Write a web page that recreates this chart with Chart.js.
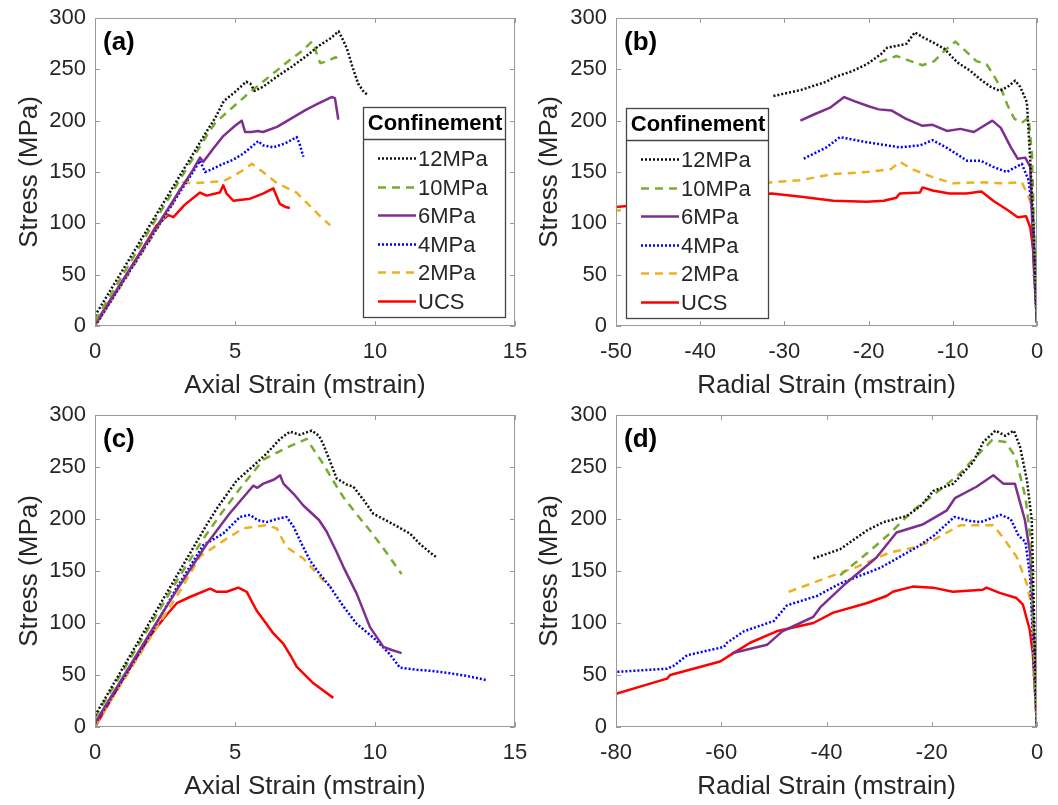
<!DOCTYPE html>
<html><head><meta charset="utf-8">
<script src="https://cdn.jsdelivr.net/npm/chart.js@4.4.1/dist/chart.umd.min.js"></script>
<style>
html,body{margin:0;padding:0;background:#fff;}
#wrap{position:relative;width:1058px;height:805px;overflow:hidden;}
canvas{position:absolute;}
</style></head><body>
<div id="wrap">
<canvas id="ca" width="529" height="402" style="left:0;top:0;width:529px;height:402px"></canvas>
<canvas id="cb" width="529" height="402" style="left:529px;top:0;width:529px;height:402px"></canvas>
<canvas id="cc" width="529" height="403" style="left:0;top:402px;width:529px;height:403px"></canvas>
<canvas id="cd" width="529" height="403" style="left:529px;top:402px;width:529px;height:403px"></canvas>
</div>
<script>
// ---------- series names ----------
const seriesNames = ['12MPa', '10MPa', '6MPa', '4MPa', '2MPa', 'UCS'];

// ---------- panel (a): stress vs axial strain, [strain, stress] ----------
const a12 = [[0,10],[1,55],[2,100],[3,145],[4,190],[4.3,203],[4.6,219],[5.0,228],[5.4,238],[5.55,236],[5.7,229],[6.0,233],[6.5,243],[7.0,252],[7.5,262],[8.0,273],[8.4,280],[8.7,287],[8.85,279],[9.0,270],[9.2,252],[9.4,236],[9.6,228],[9.75,225]];
const a10 = [[0,5],[1,50],[2,96],[3,141],[4,186],[4.3,198],[4.5,203],[5.0,215],[5.5,227],[6.0,238],[6.5,249],[7.0,260],[7.4,268],[7.75,277],[7.85,272],[7.95,262],[8.05,256],[8.3,258],[8.6,262],[8.7,256]];
const a6 = [[0,2],[1,45],[2,88],[3,131],[3.5,152],[3.75,164],[3.87,160],[4.2,172],[4.58,185],[5.0,195],[5.24,200],[5.36,189],[5.6,189],[5.8,190],[6.0,189],[6.5,194],[7.0,202],[7.56,211],[8.0,217],[8.45,223],[8.57,222],[8.69,201]];
const a4 = [[0,0],[1,43],[2,86],[3,129],[3.5,150],[3.75,161],[3.93,150],[4.2,153],[4.58,158],[4.94,162],[5.3,168],[5.83,180],[6.0,176],[6.37,174],[6.8,178],[7.2,184],[7.3,178],[7.44,165]];
const a2 = [[0,0],[1,42],[2,85],[2.8,120],[3.15,140],[3.5,139],[4.0,140],[4.58,141],[5.0,147],[5.3,152],[5.6,158],[6.0,150],[6.5,139],[7.2,130],[7.6,119],[8.0,108],[8.4,98]];
const aUCS = [[0,0],[1,44],[2.2,98],[2.62,108],[2.8,106],[3.2,118],[3.75,130],[3.99,127],[4.46,130],[4.58,137],[4.7,129],[4.94,122],[5.54,124],[6.0,129],[6.37,134],[6.6,119],[6.8,116],[6.96,115]];

// ---------- panel (b): stress vs radial strain ----------
const b12 = [[-31.3,224],[-28,230],[-25,238],[-24.2,242],[-22,248],[-20.2,255],[-18.5,265],[-17.8,271],[-16,274],[-15.5,275],[-14.5,286],[-13.5,281],[-12.3,276],[-11,270],[-9.5,257],[-8,249],[-6.7,240],[-5.5,233],[-4.4,229],[-3.3,234],[-2.6,239],[-2,233],[-1.2,218],[-0.8,161],[-0.44,103],[0,3]];
const b10 = [[-18.7,257],[-16.7,263],[-15,258],[-13.6,254],[-12.2,258],[-11,268],[-9.7,277],[-8.5,268],[-7.2,258],[-6.0,255],[-5.2,245],[-4.3,232],[-3.5,215],[-2.7,202],[-1.8,198],[-1.0,203],[-0.6,167],[-0.3,80],[0,3]];
const b6 = [[-28.1,200],[-26.5,206],[-24.5,213],[-22.9,223],[-21.7,219],[-20,214],[-18.8,211],[-17.3,210],[-15.6,202],[-13.6,195],[-12.4,196],[-10.7,190],[-9.1,192],[-7.5,189],[-6.3,195],[-5.3,200],[-4.3,193],[-3.1,174],[-2.3,163],[-1.4,164],[-0.8,155],[-0.4,60],[0,3]];
const b4 = [[-27.7,163],[-25.0,174],[-23.4,184],[-20.2,179],[-16.3,174],[-13.9,176],[-12.4,181],[-10.8,174],[-8.3,161],[-6.7,161],[-5.2,155],[-3.6,150],[-1.8,158],[-1.0,142],[-0.44,103],[-0.2,30],[0,3]];
const b2 = [[-52,110],[-50,112],[-31.5,140],[-28.1,142],[-24.2,148],[-20.2,150],[-17.3,153],[-16.3,160],[-14.9,153],[-12.4,145],[-10.0,139],[-6.3,140],[-4.3,139],[-1.8,140],[-1.0,126],[-0.6,116],[-0.3,50],[0,3]];
const bUCS = [[-52,115],[-50,116],[-31.5,129],[-28,126],[-24.2,122],[-20.2,121],[-18.2,122],[-16.7,125],[-16.3,129],[-13.9,130],[-13.6,135],[-12.4,132],[-10.4,129],[-8.4,129],[-6.6,131],[-5.2,122],[-3.5,113],[-2.3,106],[-1.3,107],[-0.8,96],[-0.4,71],[0,3]];

// ---------- panel (c): stress vs axial strain ----------
const c12 = [[0,11],[1,57],[2,103],[3,149],[4,195],[4.35,210],[5.06,237],[5.65,251],[6.13,263],[6.61,277],[6.96,284],[7.32,281],[7.74,285],[8.0,280],[8.15,272],[8.4,255],[8.63,239],[9.0,233],[9.23,231],[9.6,218],[9.94,205],[10.3,200],[10.65,195],[11.25,186],[11.6,176],[11.96,168],[12.2,163]];
const c10 = [[0,9],[1,54],[2,99],[3,144],[3.87,181],[4.5,205],[5.2,230],[6.01,257],[6.8,268],[7.56,277],[7.85,265],[8.15,253],[8.5,237],[8.87,221],[9.3,206],[9.82,189],[10.4,168],[10.95,147]];
const c6 = [[0,4],[1,48],[2,92],[3,135],[3.99,176],[4.8,205],[5.65,232],[5.8,230],[6.01,234],[6.4,238],[6.61,242],[6.73,234],[7.1,224],[7.44,213],[8.0,199],[8.27,188],[8.6,170],[8.87,154],[9.35,128],[9.82,96],[10.3,77],[10.6,74],[10.95,71]];
const c4 = [[0,3],[1,46],[2,90],[2.92,134],[3.87,175],[4.58,186],[5.18,202],[5.54,204],[5.8,199],[6.13,197],[6.49,200],[6.84,202],[7.08,193],[7.4,175],[7.68,160],[8.0,148],[8.39,135],[8.87,116],[9.35,99],[9.94,86],[10.53,70],[10.89,57],[11.5,55],[12.0,54],[12.6,52],[13.3,49],[14.0,45]];
const c2 = [[0,1],[1,44],[2,87],[3.04,131],[3.75,164],[4.58,179],[5.3,191],[5.8,193],[6.13,194],[6.49,191],[6.84,173],[7.44,162],[8.15,141],[8.45,134]];
const cUCS = [[0,0],[1,46],[1.96,87],[2.5,106],[2.92,119],[3.39,125],[4.11,133],[4.35,130],[4.7,130],[5.12,134],[5.42,130],[5.77,112],[6.1,100],[6.37,90],[6.73,80],[7.0,68],[7.2,58],[7.8,42],[8.51,28]];

// ---------- panel (d): stress vs radial strain ----------
const d12 = [[-42.5,162],[-37.4,171],[-32.3,189],[-29.2,197],[-24.7,203],[-22,213],[-19.7,227],[-15.9,234],[-12.1,255],[-10.2,274],[-7.9,285],[-6.0,280],[-4.4,285],[-3.2,269],[-1.9,237],[-1.0,199],[-0.4,71],[0,0]];
const d10 = [[-37.4,146],[-32.3,167],[-28,186],[-23.6,208],[-19.7,223],[-14.8,243],[-11.6,260],[-8.5,276],[-6.0,274],[-4.1,260],[-2.2,221],[-1.2,179],[-0.4,38],[0,0]];
const d6 = [[-58,71],[-51.3,79],[-48.4,92],[-45,100],[-42.5,106],[-41.2,115],[-36.8,136],[-30.5,163],[-26.7,187],[-21.6,195],[-17.2,208],[-15.6,220],[-11.5,231],[-8.3,242],[-6.4,234],[-4.2,234],[-3.5,221],[-2.3,199],[-1.3,167],[-0.4,71],[0,0]];
const d4 = [[-82,52],[-80,53],[-70.3,56],[-69,59],[-66.5,69],[-59.5,77],[-58.9,81],[-55.7,92],[-50,102],[-47.5,117],[-41.8,126],[-37.4,138],[-29.8,153],[-22.8,173],[-19.6,184],[-15.7,202],[-12.6,198],[-10.7,197],[-9.1,200],[-6.9,204],[-5.0,200],[-3.5,184],[-2.2,178],[-1.3,144],[-0.4,38],[0,0]];
const d2 = [[-47.2,130],[-38.6,146],[-34.2,154],[-27.9,168],[-22.8,173],[-19.6,180],[-14.6,194],[-10.7,194],[-8.3,194],[-6.0,179],[-3.8,163],[-1.9,137],[-1.0,115],[-0.4,38],[0,0]];
const dUCS = [[-82,28],[-80,32],[-70.3,46.5],[-69.7,50],[-60.2,63],[-57.7,71],[-54.5,81],[-49.5,92],[-42.5,100],[-38.7,110],[-32.4,119],[-28.6,126],[-27.4,130],[-23.6,135],[-19.8,134],[-16.0,130],[-10.3,132],[-9.6,134],[-7.1,129],[-3.9,124],[-2.7,118],[-1.4,94],[-0.8,71],[0,0]];

// ---------- axis settings ----------
const yRange = [0, 300], yStep = 50;
const axialRange = [0, 15], axialStep = 5;
const radialRangeB = [-50, 0], radialStepB = 10;
const radialRangeD = [-80, 0], radialStepD = 20;

// ---------- styles ----------
const FONT = '"Liberation Sans", Arial, Helvetica, sans-serif';
const TXT = '#262626';
const styles = [
  {c:'#111111', dash:[2,2]},
  {c:'#77AC30', dash:[8,6]},
  {c:'#7E2F8E', dash:[]},
  {c:'#0000FF', dash:[2,2]},
  {c:'#EDB120', dash:[8,6]},
  {c:'#FF0000', dash:[]}
];

Chart.defaults.font.family = FONT;
Chart.defaults.color = TXT;

const decor = {
  id: 'decor',
  afterDatasetsDraw(chart, args, opts) {
    const {ctx, chartArea: a, scales} = chart;
    ctx.save();
    ctx.strokeStyle = '#9a9a9a';
    ctx.lineWidth = 1;
    ctx.setLineDash([]);
    ctx.strokeRect(Math.round(a.left) + 0.5, Math.round(a.top) + 0.5, Math.round(a.right - a.left) - 1, Math.round(a.bottom - a.top) - 1);
    const tl = 5;
    ctx.beginPath();
    scales.x.ticks.forEach(t => {
      const px = Math.round(scales.x.getPixelForValue(t.value)) + 0.5;
      ctx.moveTo(px, a.bottom); ctx.lineTo(px, a.bottom - tl);
      ctx.moveTo(px, a.top); ctx.lineTo(px, a.top + tl);
    });
    scales.y.ticks.forEach(t => {
      const py = Math.round(scales.y.getPixelForValue(t.value)) + 0.5;
      ctx.moveTo(a.left, py); ctx.lineTo(a.left + tl, py);
      ctx.moveTo(a.right, py); ctx.lineTo(a.right - tl, py);
    });
    ctx.stroke();
    ctx.fillStyle = '#000';
    ctx.font = 'bold 26px ' + FONT;
    ctx.textBaseline = 'middle';
    ctx.textAlign = 'left';
    ctx.fillText(opts.label, a.left + 8, a.top + 25);
    ctx.restore();
  },
  afterDraw(chart, args, opts) {
    const lg = opts.legend;
    if (!lg) return;
    const {ctx} = chart;
    const x = lg.x, y = lg.y, w = 142, h = 210, hh = 32;
    ctx.save();
    ctx.fillStyle = '#fff';
    ctx.fillRect(x, y, w, h);
    ctx.strokeStyle = '#444';
    ctx.lineWidth = 1.3;
    ctx.setLineDash([]);
    ctx.strokeRect(x + 0.5, y + 0.5, w, h);
    ctx.beginPath(); ctx.moveTo(x, y + hh + 0.5); ctx.lineTo(x + w, y + hh + 0.5); ctx.stroke();
    ctx.fillStyle = '#000';
    ctx.font = 'bold 22px ' + FONT;
    ctx.textAlign = 'center';
    ctx.textBaseline = 'middle';
    ctx.fillText('Confinement', x + w / 2 + 1, y + hh / 2 + 1);
    ctx.font = '22px ' + FONT;
    ctx.textAlign = 'left';
    chart.data.datasets.forEach((ds, i) => {
      const cy = Math.round(y + 51 + i * 28.5) + 0.5;
      ctx.strokeStyle = ds.borderColor;
      ctx.lineWidth = ds.borderWidth;
      ctx.setLineDash(ds.borderDash || []);
      ctx.beginPath(); ctx.moveTo(x + 15, cy); ctx.lineTo(x + 53, cy); ctx.stroke();
      ctx.fillStyle = TXT;
      ctx.fillText(ds.label, x + 55, cy + 1);
    });
    ctx.restore();
  }
};

function makeChart(id, series, xr, xs, xTitle, opt) {
  const datasets = series.map((s, i) => ({
    label: seriesNames[i],
    data: s.map(p => ({x: p[0], y: p[1]})),
    showLine: true,
    borderColor: styles[i].c,
    backgroundColor: styles[i].c,
    borderDash: styles[i].dash,
    borderWidth: 2.5,
    borderCapStyle: 'butt',
    borderJoinStyle: 'round',
    pointRadius: 0,
    pointHoverRadius: 0,
    tension: 0,
    fill: false
  }));
  return new Chart(document.getElementById(id), {
    type: 'scatter',
    data: {datasets},
    options: {
      responsive: false,
      animation: false,
      events: [],
      layout: {padding: {top: opt.top, right: opt.right, left: 0, bottom: 0}},
      plugins: {
        legend: {display: false},
        tooltip: {enabled: false},
        decor: {label: opt.label, legend: opt.legend}
      },
      scales: {
        x: {
          type: 'linear', min: xr[0], max: xr[1],
          grid: {display: false, drawTicks: false},
          border: {display: false},
          ticks: {stepSize: xs, padding: 13, color: TXT, font: {size: 22}, maxRotation: 0, autoSkip: false},
          title: {display: true, text: xTitle, color: TXT, font: {size: 26}, padding: {top: 0, bottom: opt.xtPad}},
          afterFit: s => { s.height = opt.xh; s.paddingLeft = 0; s.paddingRight = 0; }
        },
        y: {
          type: 'linear', min: yRange[0], max: yRange[1],
          grid: {display: false, drawTicks: false},
          border: {display: false},
          ticks: {stepSize: yStep, padding: 9, color: TXT, font: {size: 22}, autoSkip: false},
          title: {display: true, text: 'Stress (MPa)', color: TXT, font: {size: 26}, padding: {top: opt.ytPad, bottom: 0}},
          afterFit: s => { s.width = opt.yw; s.paddingTop = 0; s.paddingBottom = 0; }
        }
      }
    },
    plugins: [decor]
  });
}

makeChart('ca', [a12, a10, a6, a4, a2, aUCS], axialRange, axialStep, 'Axial Strain (mstrain)',
  {top: 18, right: 14, xh: 76, yw: 95, xtPad: 1, ytPad: 14, label: '(a)', legend: {x: 363, y: 107}});
makeChart('cb', [b12, b10, b6, b4, b2, bUCS], radialRangeB, radialStepB, 'Radial Strain (mstrain)',
  {top: 18, right: 21, xh: 76, yw: 87, xtPad: 1, ytPad: 5, label: '(b)', legend: {x: 97, y: 108}});
makeChart('cc', [c12, c10, c6, c4, c2, cUCS], axialRange, axialStep, 'Axial Strain (mstrain)',
  {top: 13, right: 14, xh: 78, yw: 95, xtPad: 3, ytPad: 14, label: '(c)', legend: null});
makeChart('cd', [d12, d10, d6, d4, d2, dUCS], radialRangeD, radialStepD, 'Radial Strain (mstrain)',
  {top: 13, right: 21, xh: 78, yw: 87, xtPad: 3, ytPad: 5, label: '(d)', legend: null});
</script>
</body></html>
